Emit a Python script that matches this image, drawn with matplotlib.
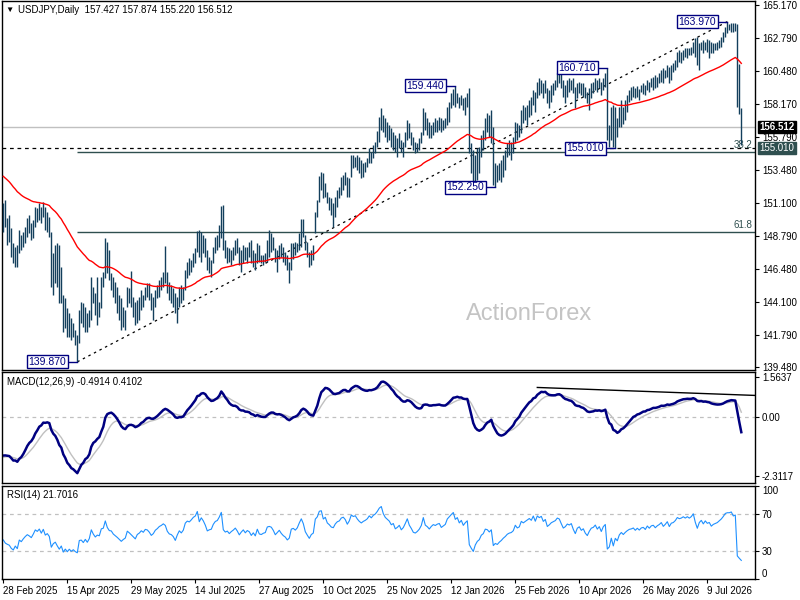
import numpy as np
import pandas as pd
import matplotlib
matplotlib.use("Agg")
import matplotlib.pyplot as plt

plt.rcParams['font.family'] = ['Liberation Sans', 'DejaVu Sans']

# ---------------------------
# Chart data
# ---------------------------
header_text = "USDJPY,Daily  157.427 157.874 155.220 156.512"
macd_text = "MACD(12,26,9) -0.4914 0.4102"
rsi_text = "RSI(14) 21.7016"
watermark = "ActionForex"

first_day = "2025-02-28"
closed_days = ["2025-12-25", "2026-01-01"]
date_labels = ["28 Feb 2025", "15 Apr 2025", "29 May 2025", "14 Jul 2025",
               "27 Aug 2025", "10 Oct 2025", "25 Nov 2025", "12 Jan 2026",
               "25 Feb 2026", "10 Apr 2026", "26 May 2026", "9 Jul 2026"]

highs = [
    151.10, 151.34, 150.04, 150.27, 149.33, 148.27, 148.03, 148.15, 149.21, 148.86,
    149.09, 149.45, 150.04, 150.27, 149.68, 149.92, 150.86, 150.75, 151.10, 150.86,
    151.22, 150.86, 150.51, 150.15, 149.09, 147.56, 148.15, 148.27, 148.15, 146.61,
    144.61, 144.37, 143.66, 143.31, 142.95, 142.60, 142.13, 141.77, 143.54, 144.13,
    144.02, 143.78, 143.31, 143.54, 145.90, 145.20, 144.72, 145.90, 144.13, 145.90,
    146.26, 148.62, 148.38, 147.79, 146.14, 145.90, 145.55, 145.20, 144.61, 144.37,
    143.78, 143.54, 145.20, 145.08, 146.33, 144.49, 144.13, 144.25, 144.49, 144.96,
    144.61, 145.20, 145.43, 145.43, 144.72, 144.49, 144.96, 145.31, 145.67, 145.90,
    146.26, 148.08, 146.26, 145.55, 145.31, 145.08, 144.72, 144.49, 145.20, 145.31,
    145.20, 146.38, 146.97, 147.20, 147.09, 147.56, 147.91, 149.16, 149.21, 149.09,
    148.86, 148.62, 147.79, 147.32, 147.09, 148.03, 148.69, 148.86, 149.57, 150.91,
    150.98, 148.50, 148.03, 147.91, 147.79, 148.03, 148.50, 148.62, 148.03, 147.79,
    148.15, 148.03, 148.03, 148.38, 148.49, 147.79, 147.55, 148.26, 148.14, 147.43,
    147.43, 147.55, 148.49, 149.20, 148.97, 148.73, 147.90, 147.79, 148.14, 148.26,
    148.02, 147.67, 147.43, 146.96, 148.26, 148.30, 148.38, 148.26, 148.97, 149.96,
    149.96, 148.85, 148.38, 147.67, 147.79, 148.14, 150.50, 151.33, 153.03, 153.34,
    153.22, 152.51, 151.92, 151.56, 151.45, 151.09, 151.56, 152.04, 152.27, 152.98,
    153.10, 153.34, 152.98, 152.86, 154.52, 154.52, 154.40, 154.52, 154.40, 154.16,
    153.93, 154.05, 154.28, 154.99, 154.75, 155.23, 155.46, 156.20, 157.23, 157.85,
    157.35, 157.12, 156.88, 156.64, 156.41, 156.17, 155.94, 155.70, 156.05, 155.58,
    155.46, 156.17, 157.00, 156.76, 156.17, 155.82, 155.46, 155.35, 155.70, 156.17,
    157.83, 157.59, 157.12, 156.88, 156.64, 156.88, 157.12, 157.00, 157.23, 157.12,
    157.00, 157.12, 157.94, 158.30, 158.89, 159.20, 159.44, 158.89, 158.65, 158.77,
    158.53, 158.65, 158.89, 159.24, 155.35, 154.87, 154.52, 154.99, 155.11, 155.94,
    156.29, 157.12, 157.47, 157.35, 157.71, 156.53, 153.93, 153.81, 153.93, 154.16,
    154.52, 154.88, 155.35, 155.58, 155.47, 155.82, 156.88, 156.77, 156.65, 157.71,
    158.06, 157.95, 158.06, 158.42, 158.65, 159.13, 159.01, 159.72, 159.95, 159.83,
    159.60, 159.83, 159.24, 159.13, 159.48, 159.60, 159.83, 160.31, 160.66, 160.31,
    159.83, 159.48, 159.83, 159.95, 159.83, 159.95, 159.36, 159.60, 159.72, 159.60,
    159.60, 159.36, 159.01, 159.24, 159.60, 159.72, 159.95, 159.83, 159.95, 159.72,
    159.95, 160.31, 160.71, 156.65, 157.95, 158.06, 157.95, 157.12, 157.95, 158.42,
    157.90, 158.42, 158.80, 159.13, 159.31, 159.41, 159.24, 159.41, 159.17, 159.48,
    159.60, 159.48, 159.83, 159.72, 159.95, 160.07, 160.19, 160.07, 160.31, 160.54,
    160.66, 160.54, 160.90, 160.78, 160.90, 161.02, 161.25, 161.84, 161.96, 161.84,
    161.96, 162.08, 162.08, 162.08, 162.20, 162.55, 162.79, 162.91, 162.43, 162.55,
    162.67, 162.55, 162.71, 162.67, 162.55, 162.43, 162.48, 162.55, 162.67, 162.91,
    163.26, 163.61, 163.97, 163.80, 163.90, 163.88, 163.85, 163.80, 161.00, 157.874,
]

lows = [
    149.09, 149.45, 148.15, 148.38, 147.32, 146.85, 146.61, 146.61, 147.56, 147.79,
    148.03, 148.27, 148.74, 148.97, 148.50, 148.62, 149.45, 149.80, 149.92, 149.68,
    150.15, 149.21, 149.09, 148.74, 145.20, 144.61, 145.43, 145.20, 144.02, 144.02,
    142.01, 142.24, 141.65, 141.65, 141.42, 141.65, 141.06, 139.87, 141.18, 142.60,
    142.36, 142.01, 142.01, 142.36, 142.83, 144.02, 143.19, 142.48, 143.07, 143.66,
    145.20, 145.79, 146.14, 145.67, 144.96, 144.49, 144.02, 143.31, 142.83, 142.13,
    142.36, 142.13, 143.78, 144.02, 143.78, 143.07, 142.48, 142.60, 142.83, 143.54,
    143.78, 144.25, 144.49, 144.25, 143.54, 142.83, 143.78, 144.37, 144.49, 144.96,
    145.20, 145.43, 144.72, 144.25, 144.02, 143.78, 143.31, 142.65, 143.78, 144.02,
    144.25, 144.96, 145.79, 146.02, 146.26, 146.61, 146.85, 147.68, 147.32, 146.97,
    147.56, 147.32, 146.38, 146.14, 145.90, 146.85, 147.56, 147.79, 148.03, 148.62,
    147.79, 147.20, 146.85, 146.97, 146.73, 147.09, 147.44, 147.56, 146.73, 146.26,
    146.85, 147.09, 146.85, 147.32, 146.84, 146.60, 146.37, 146.84, 146.96, 146.84,
    146.72, 146.96, 146.96, 147.31, 147.67, 147.79, 146.96, 146.25, 147.19, 147.31,
    146.96, 146.72, 146.37, 145.42, 146.37, 147.19, 147.43, 147.67, 147.79, 148.02,
    148.73, 147.79, 147.31, 146.60, 146.72, 147.08, 148.97, 150.15, 151.21, 152.04,
    151.45, 151.56, 151.09, 150.62, 150.27, 149.44, 150.15, 150.86, 151.45, 151.68,
    152.04, 152.39, 151.56, 151.56, 152.98, 153.57, 153.69, 153.45, 153.22, 152.86,
    152.98, 153.34, 153.69, 153.93, 153.93, 154.28, 154.64, 155.10, 155.46, 156.30,
    156.17, 155.82, 155.46, 155.58, 155.11, 154.87, 154.75, 154.40, 154.99, 154.75,
    154.40, 155.11, 155.58, 155.70, 155.23, 154.87, 154.64, 154.75, 154.87, 155.35,
    155.94, 156.29, 155.94, 155.70, 155.70, 155.94, 156.17, 156.17, 156.29, 156.17,
    156.29, 156.41, 156.64, 156.88, 157.83, 158.06, 157.94, 158.18, 157.83, 158.06,
    157.71, 157.35, 157.94, 154.64, 153.22, 152.51, 152.63, 152.75, 153.22, 154.40,
    154.87, 155.58, 156.17, 155.82, 155.35, 152.40, 152.25, 152.63, 152.75, 152.63,
    152.99, 153.46, 154.40, 154.52, 154.17, 154.64, 155.35, 155.58, 155.82, 156.06,
    156.77, 157.00, 156.65, 157.24, 157.36, 158.06, 157.59, 158.54, 158.77, 158.89,
    158.54, 158.89, 158.18, 157.83, 158.30, 158.77, 159.13, 159.36, 159.60, 159.24,
    158.65, 158.18, 158.65, 159.01, 159.13, 158.89, 157.83, 158.54, 158.89, 158.77,
    158.65, 158.54, 158.18, 157.71, 158.54, 158.89, 159.13, 159.01, 159.24, 158.77,
    159.13, 159.36, 155.58, 155.11, 155.58, 155.11, 155.01, 155.82, 156.53, 156.53,
    156.70, 157.00, 157.60, 158.30, 158.42, 158.65, 158.54, 158.65, 158.42, 159.01,
    158.84, 158.77, 159.13, 159.01, 159.36, 159.13, 159.24, 159.36, 159.60, 159.72,
    159.60, 159.95, 160.07, 159.60, 159.83, 160.43, 160.54, 160.78, 161.13, 161.02,
    161.25, 161.49, 161.37, 161.61, 161.61, 161.73, 161.49, 160.90, 160.54, 161.96,
    161.73, 161.96, 161.84, 161.37, 161.73, 161.73, 161.96, 161.96, 162.08, 162.20,
    162.55, 162.91, 163.14, 163.38, 163.26, 163.26, 163.30, 157.95, 157.40, 155.22,
]

closes = [
    150.60, 149.60, 149.20, 148.90, 147.80, 147.20, 147.90, 147.00, 148.70, 148.20,
    148.80, 149.30, 149.70, 149.40, 149.00, 149.70, 150.60, 150.30, 150.80, 150.00,
    150.80, 149.60, 149.90, 149.30, 146.20, 146.90, 147.20, 146.00, 144.80, 145.40,
    142.90, 143.50, 142.30, 142.80, 141.90, 142.20, 141.40, 140.90, 143.40, 143.50,
    142.70, 143.40, 142.50, 143.30, 145.60, 144.40, 143.50, 144.00, 143.80, 145.70,
    145.90, 148.40, 146.70, 145.80, 145.70, 144.80, 144.30, 143.80, 143.20, 142.60,
    143.00, 143.30, 144.90, 144.50, 144.00, 143.50, 143.00, 143.90, 144.20, 144.70,
    144.40, 145.00, 144.90, 144.50, 143.90, 144.20, 144.80, 145.10, 145.50, 145.70,
    146.00, 145.80, 145.00, 144.60, 144.50, 144.20, 143.60, 144.30, 144.90, 144.60,
    145.00, 146.20, 146.60, 146.50, 146.90, 147.40, 147.70, 148.80, 147.60, 148.50,
    148.10, 147.50, 146.60, 146.80, 146.90, 147.80, 148.40, 148.60, 149.40, 150.70,
    147.90, 147.40, 147.60, 147.10, 147.50, 147.80, 148.20, 147.70, 147.00, 147.50,
    147.90, 147.40, 147.80, 147.60, 147.00, 147.40, 146.90, 148.00, 147.20, 147.10,
    147.30, 147.40, 148.30, 148.40, 148.30, 147.90, 147.30, 147.60, 147.90, 147.50,
    147.20, 147.00, 146.60, 146.80, 147.90, 148.00, 147.80, 148.10, 148.80, 149.50,
    149.00, 148.00, 147.50, 147.00, 147.50, 147.70, 150.30, 150.90, 152.70, 152.90,
    151.70, 152.20, 151.30, 151.00, 150.60, 150.50, 151.30, 151.80, 152.00, 152.70,
    152.90, 152.60, 152.00, 152.70, 154.20, 154.00, 154.20, 153.80, 153.50, 153.30,
    153.60, 153.80, 154.10, 154.70, 154.50, 155.00, 155.30, 155.90, 156.80, 157.30,
    156.60, 156.20, 156.00, 155.80, 155.40, 155.60, 155.00, 155.20, 155.50, 155.00,
    155.30, 155.90, 156.70, 156.00, 155.60, 155.10, 155.00, 155.20, 155.50, 156.00,
    157.40, 156.50, 156.30, 156.00, 156.40, 156.70, 156.60, 156.80, 156.90, 156.50,
    156.70, 156.90, 157.70, 158.10, 158.50, 158.90, 158.30, 158.60, 158.10, 158.50,
    158.00, 158.40, 158.70, 155.00, 154.00, 153.00, 154.00, 154.60, 154.90, 155.70,
    156.00, 156.90, 156.80, 156.40, 156.80, 153.10, 153.50, 153.20, 153.60, 153.90,
    154.30, 154.60, 155.00, 155.20, 155.30, 155.60, 156.60, 156.20, 156.40, 157.50,
    157.30, 157.60, 157.90, 158.20, 158.00, 158.90, 158.30, 159.50, 159.30, 159.60,
    159.00, 159.40, 158.50, 158.80, 159.20, 159.40, 159.60, 160.10, 160.00, 159.50,
    159.00, 159.20, 159.60, 159.50, 159.70, 159.10, 158.60, 159.30, 159.50, 159.10,
    159.30, 158.80, 158.50, 159.00, 159.40, 159.50, 159.80, 159.40, 159.70, 159.20,
    159.80, 160.10, 155.90, 156.20, 157.60, 155.50, 157.00, 156.30, 157.60, 158.20,
    157.70, 158.20, 158.60, 158.90, 159.00, 159.20, 158.80, 159.20, 158.90, 159.30,
    159.40, 159.10, 159.70, 159.40, 159.80, 159.90, 159.60, 159.90, 160.10, 160.40,
    160.00, 160.30, 160.70, 160.20, 160.70, 160.80, 161.10, 161.60, 161.50, 161.60,
    161.80, 161.70, 161.90, 161.80, 162.00, 162.40, 161.80, 161.30, 162.00, 162.30,
    162.00, 162.40, 162.20, 162.30, 162.00, 162.20, 162.30, 162.40, 162.60, 162.80,
    163.10, 163.50, 163.60, 163.60, 163.70, 163.50, 163.60, 158.30, 157.427, 156.512,
]

# indicator levels at the left edge of the chart (history before the first bar)
ema55_start = 153.1
ema12_start = 151.0
ema26_start = 152.6
signal_start = -1.6
rsi_gain_start = 0.40
rsi_loss_start = 0.55

support_level = 155.010
fib_ratios = [38.2, 61.8]
swing_highs = [159.440, 160.710, 163.970]
swing_lows = [139.870, 152.250, 155.010]

macd_trend_dates = ["2026-03-12", "2026-07-31"]
macd_trend_values = [1.16, 0.87]

price_ticks = [165.170, 162.790, 160.480, 158.170, 155.790, 153.480,
               151.100, 148.790, 146.480, 144.100, 141.790, 139.480]
macd_ticks = [1.5637, 0.0, -2.3117]
macd_tick_labels = ["1.5637", "0.00", "-2.3117"]
rsi_levels = [70, 30]
rsi_ticks = [100, 70, 30, 0]

# ---------------------------
# Indicators
# ---------------------------
def ema(values, start, span):
    a = 2.0 / (span + 1)
    out = np.empty(len(values))
    prev = start
    for k, v in enumerate(values):
        prev = prev + a * (v - prev)
        out[k] = prev
    return out

close = np.array(closes)
hi = np.array(highs)
lo = np.array(lows)
idx = np.arange(len(close))

ma55 = ema(close, ema55_start, 55)
macd = ema(close, ema12_start, 12) - ema(close, ema26_start, 26)
signal = ema(macd, signal_start, 9)

changes = np.diff(close, prepend=close[0])
gain, loss = rsi_gain_start, rsi_loss_start
rsi = []
for ch in changes:
    gain = (gain * 13 + max(ch, 0)) / 14
    loss = (loss * 13 + max(-ch, 0)) / 14
    rsi.append(100 - 100 / (1 + gain / loss))
rsi = np.array(rsi)

dates = pd.bdate_range(first_day, periods=len(close) + len(closed_days))
dates = dates[~dates.isin(pd.to_datetime(closed_days))][:len(close)]
label_pos = [dates.get_loc(pd.to_datetime(s, format="%d %b %Y")) for s in date_labels]

# ---------------------------
# Figure
# ---------------------------
bar_color = '#133f5c'
navy = '#000080'
slate = '#2f4f4f'
xmin, xmax = -0.65, 375.85

fig = plt.figure(figsize=(8, 6), dpi=100)
ax_p = fig.add_axes([0.0025, 0.3833, 0.94125, 0.615])
ax_m = fig.add_axes([0.0025, 0.195, 0.94125, 0.185])
ax_r = fig.add_axes([0.0025, 0.035, 0.94125, 0.155])

for ax in (ax_p, ax_m, ax_r):
    ax.set_xlim(xmin, xmax)
    ax.yaxis.tick_right()
    ax.tick_params(axis='y', length=3, width=0.8, pad=2, labelsize=7, colors='black')
    for s in ax.spines.values():
        s.set_linewidth(1.0)
        s.set_color('black')
for ax in (ax_p, ax_m):
    ax.set_xticks([])

# price panel
ax_p.set_ylim(139.29, 165.43)
ax_p.axhline(close[-1], color='#c0c0c0', lw=1, zorder=1)
ax_p.axhline(support_level, color='black', lw=0.9, ls=(0, (3, 3)), zorder=1)

i_lo, i_hi = int(np.argmin(lo)), int(np.argmax(hi))
top, bot = hi[i_hi], lo[i_lo]
for r in fib_ratios:
    level = top - r / 100 * (top - bot)
    ax_p.hlines(level, i_lo, xmax, color=slate, lw=1, zorder=1)
    ax_p.text(xmax - 1.2, level + 0.12, f"{r}", ha='right', va='bottom',
              fontsize=7, color=slate)

ax_p.plot([i_lo, i_hi], [bot, top], color='black', lw=0.9, ls=(0, (2, 3)), zorder=2)
ax_p.vlines(idx, lo, hi, color=bar_color, lw=1.0, zorder=3)
ax_p.plot(idx, ma55, color='red', lw=1, zorder=4)

box = dict(boxstyle='square,pad=0.15', fc='white', ec=navy, lw=1)
for v in swing_highs + swing_lows:
    series = hi if v in swing_highs else lo
    k = int(np.argmin(np.abs(series - v)))
    ax_p.plot([k - 5, k], [v, v], color=navy, lw=1, zorder=5)
    ax_p.text(k - 5.6, v, f"{v:.3f}", ha='right', va='center', fontsize=7.5,
              color=navy, bbox=box, zorder=6)

ax_p.set_yticks(price_ticks)
ax_p.set_yticklabels([f"{v:.3f}" for v in price_ticks])

tag_tr = ax_p.get_yaxis_transform()
ax_p.text(1.006, close[-1], f"{close[-1]:.3f}", transform=tag_tr, ha='left',
          va='center', fontsize=7, color='white', fontweight='bold',
          bbox=dict(boxstyle='square,pad=0.12', fc='black', ec='black'), zorder=7)
ax_p.text(1.006, support_level, f"{support_level:.3f}", transform=tag_tr, ha='left',
          va='center', fontsize=7, color='white',
          bbox=dict(boxstyle='square,pad=0.12', fc=slate, ec=slate), zorder=7)

# MACD panel
ax_m.set_ylim(-2.591, 1.767)
ax_m.axhline(0, color='#c0c0c0', lw=0.9, ls=(0, (3, 3)))
ax_m.plot(idx, signal, color='#c0c0c0', lw=1)
ax_m.plot(idx, macd, color=navy, lw=1.8)
t_pos = [dates.get_loc(pd.Timestamp(d)) for d in macd_trend_dates]
slope = (macd_trend_values[1] - macd_trend_values[0]) / (t_pos[1] - t_pos[0])
ax_m.plot([t_pos[0], xmax], [macd_trend_values[0],
          macd_trend_values[0] + slope * (xmax - t_pos[0])], color='black', lw=1)
ax_m.set_yticks(macd_ticks)
ax_m.set_yticklabels(macd_tick_labels)

# RSI panel
ax_r.set_ylim(0, 100.3)
for lv in rsi_levels:
    ax_r.axhline(lv, color='#c0c0c0', lw=0.9, ls=(0, (3, 3)))
ax_r.plot(idx, rsi, color='#1e90ff', lw=0.8)
ax_r.set_yticks(rsi_ticks)
ax_r.set_yticklabels([str(v) for v in rsi_ticks])
rl = ax_r.get_yticklabels()
rl[0].set_va('top')
rl[-1].set_va('bottom')

ax_r.set_xticks(label_pos)
ax_r.set_xticklabels(date_labels, ha='left', fontsize=7)
ax_r.tick_params(axis='x', length=3, width=0.8, pad=2)

# texts
fig.text(5 / 800, 1 - 10 / 600, "\u25bc", fontsize=6, va='center', ha='left')
fig.text(18 / 800, 1 - 10 / 600, header_text, fontsize=7, va='center', ha='left')
fig.text(7 / 800, 1 - 382 / 600, macd_text, fontsize=7, va='center', ha='left')
fig.text(7 / 800, 1 - 495 / 600, rsi_text, fontsize=7, va='center', ha='left')
fig.text(529 / 800, 1 - 314 / 600, watermark, fontsize=17, color='#c4c4c4',
         va='center', ha='center')

fig.savefig("out.png", dpi=100)
